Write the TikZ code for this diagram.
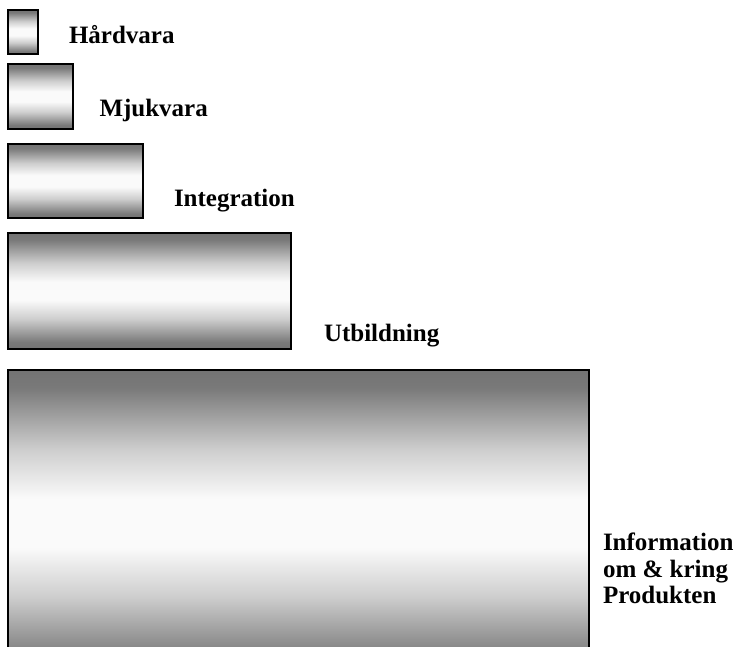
\documentclass[tikz,border=0pt]{standalone}
\usepackage{fontspec}
\setmainfont{Liberation Serif}
\definecolor{edge}{gray}{0.45}
\definecolor{mid}{gray}{0.98}
% gray at top and bottom, white band in the middle
\pgfdeclareverticalshading{barshade}{100bp}{%
  color(0bp)=(edge); color(25bp)=(edge); color(28bp)=(edge!95!white);
  color(38bp)=(edge!35!white); color(46bp)=(mid); color(54bp)=(mid);
  color(62bp)=(edge!35!white); color(72bp)=(edge!95!white);
  color(75bp)=(edge); color(100bp)=(edge)}
\begin{document}
\begin{tikzpicture}[x=1pt,y=-1pt,
  bar/.style={draw=black, line width=1.3pt, shading=barshade, inner sep=0pt,
    outer sep=0pt, anchor=north west},
  caption/.style={anchor=base west, inner sep=0pt, outer sep=0pt,
    font=\fontsize{25}{27}\selectfont\bfseries}]
\clip (0,0) rectangle (740,647);
\fill[white] (0,0) rectangle (740,647);

% bars, growing from top to bottom
\node[bar, minimum width=30pt,  minimum height=44pt]  (hw)   at (8,10)  {};
\node[bar, minimum width=65pt,  minimum height=65pt]  (mj)   at (8,64)  {};
\node[bar, minimum width=135pt, minimum height=74pt]  (in)   at (8,144) {};
\node[bar, minimum width=283pt, minimum height=116pt] (ut)   at (8,233) {};
\node[bar, minimum width=581pt, minimum height=306pt] (info) at (8,370) {};

% captions beside each bar
\node[caption] (lhw) at (69,43.3)   {Hårdvara};
\node[caption] (lmj) at (99.5,116.7) {Mjukvara};
\node[caption] (lin) at (174,206.7) {Integration};
\node[caption] (lut) at (324,341.7) {Utbildning};
\node[caption] (linfo) at (603,550)
  {\vtop{\hbox{Information}\hbox{om \& kring}\hbox{Produkten}}};
\end{tikzpicture}
\end{document}
